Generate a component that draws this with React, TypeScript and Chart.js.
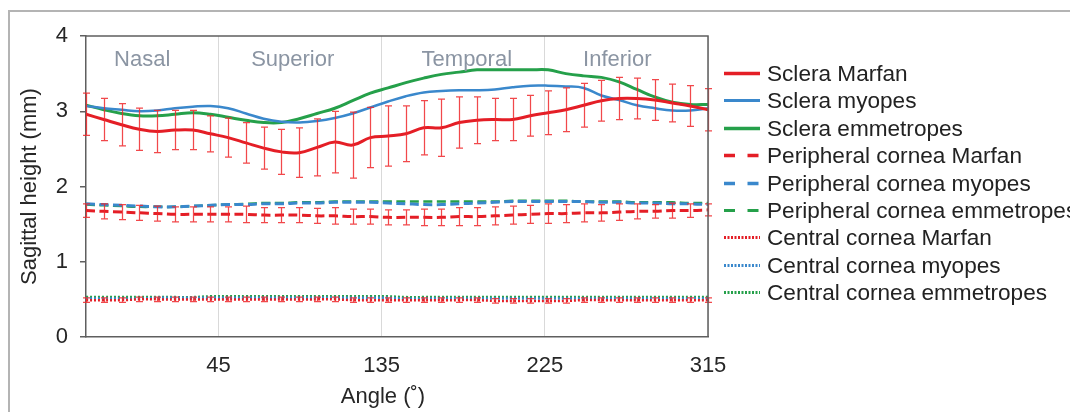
import React, { useEffect, useRef } from "react";
import { Chart, registerables } from "chart.js";

Chart.register(...registerables);

// ---------- data ----------
const angles = [
  -28, -18.2, -8.4, 1.4, 11.2, 21, 30.8, 40.6, 50.4, 60.2, 70, 79.8, 89.6, 99.4, 109.2, 119, 128.8, 138.6,
  148.4, 158.2, 168, 177.8, 187.6, 197.4, 207.2, 217, 226.8, 236.6, 246.4, 256.2, 266, 275.8, 285.6, 295.4, 305.2, 315,
];
const xTickValues = [45, 135, 225, 315];

const regionNames = ["Nasal", "Superior", "Temporal", "Inferior"];
const regionAngles = [3, 86, 182, 265];

const scleraMarfan = [
  2.96, 2.89, 2.82, 2.76, 2.73, 2.75, 2.75, 2.7, 2.65, 2.58, 2.51, 2.46, 2.45, 2.52, 2.59, 2.55, 2.65, 2.67,
  2.7, 2.78, 2.78, 2.85, 2.88, 2.89, 2.89, 2.94, 2.98, 3.02, 3.08, 3.14, 3.17, 3.17, 3.15, 3.11, 3.07, 3.02,
];
const scleraMarfanErr = [
  0.28, 0.28, 0.28, 0.28, 0.28, 0.26, 0.26, 0.24, 0.26, 0.27, 0.28, 0.3, 0.33, 0.38, 0.41, 0.44, 0.4, 0.4,
  0.37, 0.36, 0.38, 0.34, 0.31, 0.28, 0.28, 0.27, 0.29, 0.29, 0.29, 0.27, 0.28, 0.27, 0.27, 0.25, 0.27, 0.28,
];
const scleraMyopes = [
  3.07, 3.04, 3.02, 3.0, 3.01, 3.04, 3.06, 3.07, 3.04, 2.97, 2.9, 2.86, 2.85, 2.87, 2.91, 2.97, 3.05, 3.13,
  3.2, 3.25, 3.27, 3.28, 3.28, 3.29, 3.32, 3.34, 3.34, 3.33, 3.31, 3.21, 3.15, 3.08, 3.04, 3.01, 3.01, 3.04,
];
const scleraEmmetropes = [
  3.08, 3.02, 2.97, 2.94, 2.94, 2.96, 2.98, 2.96, 2.92, 2.88, 2.85, 2.85, 2.9, 2.97, 3.04, 3.14, 3.24, 3.31,
  3.38, 3.44, 3.49, 3.52, 3.55, 3.55, 3.55, 3.55, 3.55, 3.5, 3.47, 3.45, 3.39, 3.29, 3.19, 3.12, 3.09, 3.09,
];

const periMarfan = [
  1.68, 1.67, 1.66, 1.65, 1.64, 1.63, 1.63, 1.63, 1.63, 1.63, 1.62, 1.62, 1.62, 1.61, 1.61, 1.6, 1.6, 1.59,
  1.59, 1.59, 1.59, 1.6, 1.6, 1.61, 1.62, 1.63, 1.64, 1.64, 1.65, 1.65, 1.66, 1.67, 1.67, 1.68, 1.68, 1.69,
];
const periMarfanErr = [
  0.09, 0.1, 0.1, 0.1, 0.1, 0.1, 0.1, 0.1, 0.1, 0.11, 0.1, 0.1, 0.1, 0.1, 0.11, 0.1, 0.1, 0.1,
  0.1, 0.11, 0.11, 0.12, 0.12, 0.12, 0.12, 0.12, 0.13, 0.12, 0.12, 0.11, 0.11, 0.1, 0.09, 0.1, 0.09, 0.08,
];
const periMyopes = [
  1.77, 1.76, 1.75, 1.74, 1.73, 1.73, 1.74, 1.75, 1.76, 1.76, 1.77, 1.77, 1.78, 1.78, 1.79, 1.79, 1.79, 1.78,
  1.77, 1.76, 1.76, 1.77, 1.78, 1.79, 1.8, 1.8, 1.8, 1.8, 1.8, 1.79, 1.79, 1.78, 1.78, 1.77, 1.77, 1.76,
];
const periEmmetropes = [
  1.76, 1.75, 1.74, 1.73, 1.73, 1.73, 1.74, 1.75, 1.76, 1.77, 1.78, 1.78, 1.79, 1.79, 1.8, 1.8, 1.8, 1.8,
  1.8, 1.8, 1.8, 1.8, 1.8, 1.8, 1.81, 1.81, 1.81, 1.81, 1.8, 1.8, 1.8, 1.79, 1.79, 1.79, 1.78, 1.78,
];

const centralMarfan = [
  0.49, 0.49, 0.49, 0.5, 0.5, 0.5, 0.5, 0.5, 0.5, 0.5, 0.5, 0.5, 0.5, 0.5, 0.5, 0.49, 0.49, 0.49,
  0.49, 0.49, 0.49, 0.49, 0.49, 0.48, 0.48, 0.48, 0.48, 0.48, 0.49, 0.49, 0.49, 0.49, 0.49, 0.49, 0.49, 0.49,
];
const centralMarfanErr = [
  0.03, 0.03, 0.03, 0.03, 0.03, 0.03, 0.03, 0.03, 0.03, 0.03, 0.03, 0.03, 0.03, 0.03, 0.03, 0.03, 0.03, 0.03,
  0.03, 0.03, 0.03, 0.03, 0.03, 0.03, 0.03, 0.03, 0.03, 0.03, 0.03, 0.03, 0.03, 0.03, 0.03, 0.03, 0.03, 0.03,
];
const centralMyopes = [
  0.51, 0.51, 0.51, 0.51, 0.52, 0.52, 0.52, 0.52, 0.52, 0.52, 0.52, 0.52, 0.52, 0.52, 0.52, 0.52, 0.52, 0.52,
  0.51, 0.51, 0.51, 0.51, 0.51, 0.51, 0.51, 0.51, 0.51, 0.51, 0.51, 0.51, 0.51, 0.51, 0.51, 0.51, 0.51, 0.51,
];
const centralEmmetropes = [
  0.53, 0.53, 0.53, 0.53, 0.53, 0.53, 0.53, 0.54, 0.54, 0.54, 0.54, 0.54, 0.54, 0.54, 0.54, 0.54, 0.54, 0.54,
  0.53, 0.53, 0.53, 0.53, 0.53, 0.53, 0.53, 0.53, 0.53, 0.53, 0.53, 0.53, 0.53, 0.53, 0.53, 0.53, 0.53, 0.53,
];

// ---------- styles ----------
const RED = "#e41e26";
const BLUE = "#3a88cc";
const GREEN = "#25a04a";
const ERR = "rgba(238, 40, 44, 0.85)";
const FONT = "'Liberation Sans', Arial, Helvetica, sans-serif";
const DASH = [9, 4.5];
const DOT = [2, 2];

type SeriesDef = {
  label: string;
  values: number[];
  errors?: number[];
  color: string;
  width: number;
  dash: number[];
  legendDash: number[];
};

const seriesDefs: SeriesDef[] = [
  { label: "Sclera Marfan", values: scleraMarfan, errors: scleraMarfanErr, color: RED, width: 3, dash: [], legendDash: [] },
  { label: "Sclera myopes", values: scleraMyopes, color: BLUE, width: 2.5, dash: [], legendDash: [] },
  { label: "Sclera emmetropes", values: scleraEmmetropes, color: GREEN, width: 3, dash: [], legendDash: [] },
  { label: "Peripheral cornea Marfan", values: periMarfan, errors: periMarfanErr, color: RED, width: 3, dash: DASH, legendDash: [11, 12.5] },
  { label: "Peripheral cornea myopes", values: periMyopes, color: BLUE, width: 3, dash: DASH, legendDash: [11, 12.5] },
  { label: "Peripheral cornea emmetropes", values: periEmmetropes, color: GREEN, width: 2.5, dash: DASH, legendDash: [11, 12.5] },
  { label: "Central cornea Marfan", values: centralMarfan, errors: centralMarfanErr, color: RED, width: 2.5, dash: DOT, legendDash: [2, 1.5] },
  { label: "Central cornea myopes", values: centralMyopes, color: BLUE, width: 2.5, dash: DOT, legendDash: [2, 1.5] },
  { label: "Central cornea emmetropes", values: centralEmmetropes, color: GREEN, width: 2.5, dash: DOT, legendDash: [2, 1.5] },
];

const errorBarPlugin = {
  id: "errorBars",
  afterDatasetsDraw(chart: any) {
    const { ctx, scales } = chart;
    const x = scales.x;
    const y = scales.y;
    ctx.save();
    ctx.beginPath();
    ctx.rect(chart.chartArea.left - 4, chart.chartArea.top, chart.chartArea.width + 8, chart.chartArea.height);
    ctx.clip();
    ctx.strokeStyle = ERR;
    ctx.lineWidth = 1.25;
    ctx.setLineDash([]);
    chart.data.datasets.forEach((ds: any) => {
      if (!ds.errors) return;
      ds.data.forEach((pt: any, i: number) => {
        const e = ds.errors[i];
        const px = Math.round(x.getPixelForValue(pt.x)) + 0.5;
        const top = y.getPixelForValue(pt.y + e);
        const bot = y.getPixelForValue(pt.y - e);
        ctx.beginPath();
        ctx.moveTo(px, top);
        ctx.lineTo(px, bot);
        ctx.moveTo(px - 3.5, top);
        ctx.lineTo(px + 3.5, top);
        ctx.moveTo(px - 3.5, bot);
        ctx.lineTo(px + 3.5, bot);
        ctx.stroke();
      });
    });
    ctx.restore();
  },
};

const decorPlugin = {
  id: "decor",
  afterDraw(chart: any) {
    const { ctx, chartArea, scales } = chart;
    const x = scales.x;
    const y = scales.y;
    ctx.save();
    // frame (top and right)
    ctx.strokeStyle = "#5f5f5f";
    ctx.lineWidth = 1.5;
    ctx.setLineDash([]);
    ctx.beginPath();
    ctx.moveTo(chartArea.left, chartArea.top);
    ctx.lineTo(chartArea.right, chartArea.top);
    ctx.lineTo(chartArea.right, chartArea.bottom);
    ctx.stroke();

    // region labels
    ctx.font = `22px ${FONT}`;
    ctx.fillStyle = "#8b95a3";
    ctx.textAlign = "center";
    ctx.textBaseline = "middle";
    regionNames.forEach((name, i) => {
      ctx.fillText(name, x.getPixelForValue(regionAngles[i]), y.getPixelForValue(3.68));
    });

    // x axis title
    ctx.fillStyle = "#262626";
    ctx.fillText("Angle (˚)", chartArea.left + (chartArea.right - chartArea.left) / 2 - 14, chartArea.bottom + 60);

    // legend
    const lx = chartArea.right + 16;
    const ly = chartArea.top + 37;
    ctx.font = `22.6px ${FONT}`;
    ctx.textAlign = "left";
    seriesDefs.forEach((s, i) => {
      const yy = Math.round(ly + i * 27.4) + 0.5;
      ctx.strokeStyle = s.color;
      ctx.lineWidth = s.width + 0.5;
      ctx.setLineDash(s.legendDash);
      ctx.beginPath();
      ctx.moveTo(lx, yy);
      ctx.lineTo(lx + 36, yy);
      ctx.stroke();
      ctx.setLineDash([]);
      ctx.fillStyle = "#222222";
      ctx.fillText(s.label, lx + 43, yy + 1);
    });
    ctx.restore();
  },
};

export default function App() {
  const canvasRef = useRef<HTMLCanvasElement | null>(null);

  useEffect(() => {
    document.documentElement.style.overflow = "hidden";
    const canvas = canvasRef.current;
    if (!canvas) return;
    Chart.defaults.font.family = FONT;

    const datasets = seriesDefs.map((s) => ({
      label: s.label,
      data: angles.map((a, i) => ({ x: a, y: s.values[i] })),
      errors: s.errors,
      borderColor: s.color,
      backgroundColor: s.color,
      borderWidth: s.width,
      borderDash: s.dash,
      pointRadius: 0,
      pointHoverRadius: 0,
      tension: 0.4,
      fill: false,
    }));

    const chart = new Chart(canvas, {
      type: "line",
      data: { datasets: datasets as any },
      options: {
        animation: false,
        responsive: false,
        events: [],
        layout: { padding: { top: 28, right: 370, bottom: 0, left: 0 } },
        plugins: {
          legend: { display: false },
          tooltip: { enabled: false },
        },
        scales: {
          x: {
            type: "linear",
            min: -28,
            max: 315,
            afterBuildTicks: (axis: any) => {
              axis.ticks = xTickValues.map((v) => ({ value: v }));
            },
            afterFit: (scale: any) => {
              scale.height = 75;
            },
            ticks: {
              font: { size: 22 },
              color: "#262626",
              padding: 16,
              maxRotation: 0,
              autoSkip: false,
            },
            grid: { color: "#d9d9d9", lineWidth: 1, drawTicks: false },
            border: { color: "#5f5f5f", width: 1.5 },
          },
          y: {
            min: 0,
            max: 4,
            afterFit: (scale: any) => {
              scale.width = 78;
            },
            ticks: {
              stepSize: 1,
              font: { size: 22 },
              color: "#262626",
              padding: 12,
            },
            grid: { drawOnChartArea: false, drawTicks: true, tickLength: 6, color: "#5f5f5f", lineWidth: 1.5 },
            border: { color: "#5f5f5f", width: 1.5 },
            title: {
              display: true,
              text: "Sagittal height (mm)",
              font: { size: 22 },
              color: "#262626",
              padding: { top: 9, bottom: 0 },
            },
          },
        },
      },
      plugins: [errorBarPlugin, decorPlugin],
    });

    return () => {
      chart.destroy();
    };
  }, []);

  return (
    <div style={{ position: "relative", width: 1070, height: 404 }}>
      <canvas
        ref={canvasRef}
        width={1070}
        height={404}
        style={{ position: "absolute", left: 0, top: 0, width: 1070, height: 404 }}
      />
      <div
        style={{
          position: "absolute",
          left: 0,
          top: 2,
          right: 0,
          bottom: 0,
          borderTop: "2px solid #b4b4b4",
          borderLeft: "2px solid #b4b4b4",
          boxSizing: "border-box",
          pointerEvents: "none",
        }}
      />
    </div>
  );
}
